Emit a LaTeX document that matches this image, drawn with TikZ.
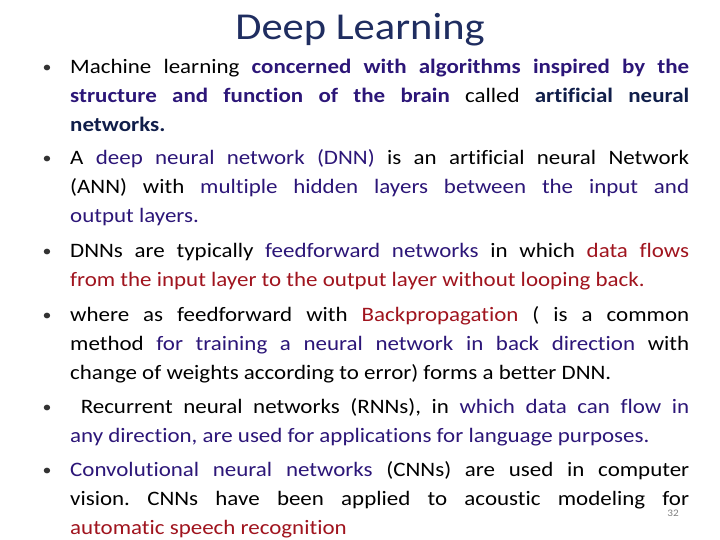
\documentclass[tikz,border=0pt]{standalone}
\usepackage{fontspec}
\setmainfont{Carlito}[FakeStretch=1.12,Ligatures=NoCommon]
\definecolor{titleblue}{RGB}{31,45,96}
\definecolor{pb}{RGB}{44,22,120}
\definecolor{nv}{RGB}{16,30,74}
\definecolor{rd}{RGB}{160,20,30}
\hyphenpenalty=10000
\tolerance=9999
\frenchspacing
\begin{document}
\begin{tikzpicture}[x=1pt,y=1pt,
  body/.style={anchor=north west,inner sep=0pt,text width=619pt,align=justify,
    font=\fontsize{20.5}{29}\selectfont\frenchspacing},
  bul/.style={anchor=base,inner sep=0pt,text=black!80,font=\fontsize{16}{29}\selectfont}]
\useasboundingbox[fill=white] (0,0) rectangle (720,-540);
\node[inner sep=0pt,text=titleblue,font=\fontsize{38}{40}\selectfont] (title) at (360,-30) {Deep Learning};
\node[body] (t1) at (70,-53.5) {\strut Machine learning \textbf{\color{pb}concerned with algorithms inspired by the\linebreak structure and function of the brain} called \textbf{\color{nv}artificial neural\linebreak networks.}};
\node[body] (t2) at (70,-144.5) {\strut A {\color{pb}deep neural network (DNN)} is an artificial neural Network\linebreak (ANN) with {\color{pb}multiple hidden layers between the input and\linebreak output layers.}};
\node[body] (t3) at (70,-236.5) {\strut DNNs are typically {\color{pb}feedforward networks} in which {\color{rd}data flows\linebreak from the input layer to the output layer without looping back.}};
\node[body] (t4) at (70,-300.5) {\strut where as feedforward with {\color{rd}Backpropagation} ( is a common\linebreak method {\color{pb}for training a neural network in back direction} with\linebreak change of weights according to error) forms a better DNN.};
\node[body] (t5) at (70,-392.5) {\strut\ Recurrent neural networks (RNNs), in {\color{pb}which data can flow in\linebreak any direction, are used for applications for language purposes.}};
\node[body] (t6) at (70,-455.5) {\strut {\color{pb}Convolutional neural networks} (CNNs) are used in computer\linebreak vision. CNNs have been applied to acoustic modeling for\linebreak {\color{rd}automatic speech recognition}};
\foreach \i/\y in {1/-73,2/-164,3/-256,4/-320,5/-412,6/-475}{
  \node[bul] (b\i) at (47,\y) {•};
}
\node[inner sep=0pt,text=gray,font=\fontsize{10}{12}\selectfont] (pg) at (673,-513) {32};
\end{tikzpicture}
\end{document}
